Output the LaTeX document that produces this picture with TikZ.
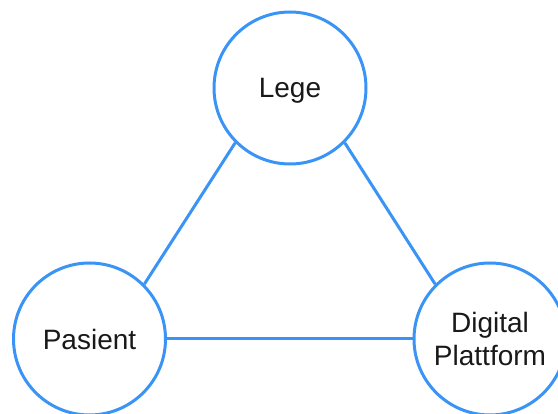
\documentclass[tikz,border=0pt]{standalone}
\usepackage{fontspec}
\setmainfont{Liberation Sans}
\definecolor{ringblue}{RGB}{58,148,246}
\definecolor{labelgrey}{RGB}{25,25,25}
\begin{document}
\begin{tikzpicture}[x=1pt,y=-1pt,
  actor/.style={circle,draw=ringblue,line width=3pt,fill=white,
    minimum size=152pt,inner sep=0pt,align=center,text=labelgrey,
    font=\fontsize{28}{33}\selectfont},
  link/.style={draw=ringblue,line width=3pt}]
  \clip (0,0) rectangle (558,414);
  \useasboundingbox (0,0) rectangle (558,414);
  \node[actor,text depth=0pt] (lege) at (290,88) {Lege};
  \node[actor] (pasient) at (89.5,339) {Pasient};
  \node[actor] (plattform) at (490,339) {Digital\\Plattform};
  \draw[link] (lege.225) -- (pasient.45);
  \draw[link] (lege.315) -- (plattform.135);
  \draw[link] (pasient.east) -- (plattform.west);
\end{tikzpicture}
\end{document}
